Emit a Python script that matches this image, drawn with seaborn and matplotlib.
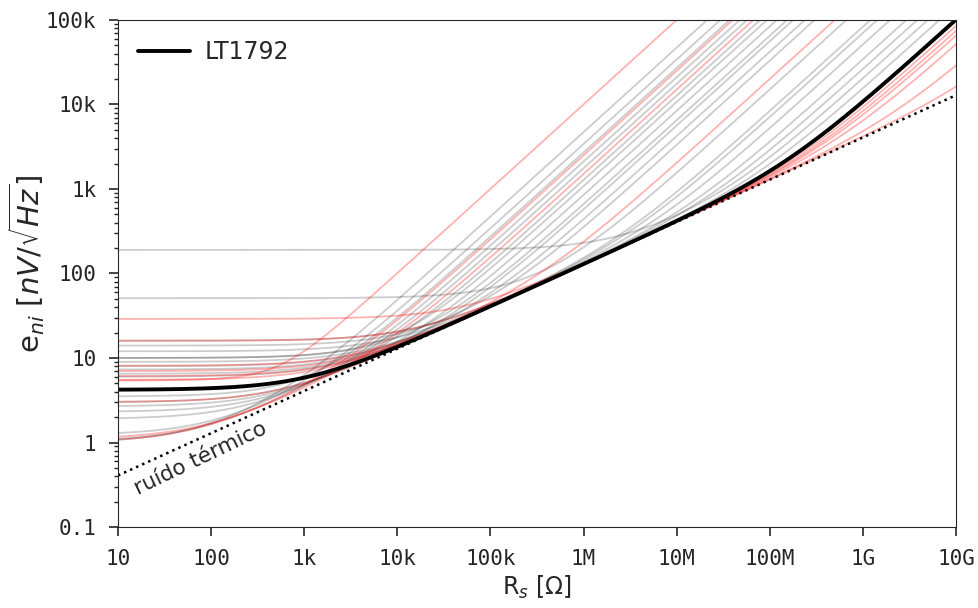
# %%
import numpy as np
import pandas as pd

import matplotlib
matplotlib.use("Agg")
import matplotlib.pyplot as plt
from matplotlib.ticker import FixedLocator, NullLocator, LogLocator
import seaborn as sns

# %%
# voltage noise (nV/rtHz) and current noise (pA/rtHz)
grey_en = [190, 51, 14, 10, 10, 7.3, 3.5, 2.67, 2.3, 1.9, 1.23, 1.03, 1.0,
           8.0, 6.5, 12, 9, 6, 16, 3.0]
grey_in = [0.02, 0.15, 0.33, 0.65, 1.07, 0.42, 2.7, 0.84, 1.27, 1.75, 3.4, 2.1, 4.7,
           0.083, 0.07, 0.051, 0.034, 0.026, 0.015, 0.56]

red_en = [5.4, 29, 16, 6.1, 8.1, 7.0, 5.5, 1.0, 3.0, 1.1]
red_in = [10, 0.0084, 0.0073, 0.0064, 0.005, 0.0026, 0.001, 2.5, 0.2, 1.5]

lt1792_en = 4.2
lt1792_in = 0.01

x_ticks = [1e1, 1e2, 1e3, 1e4, 1e5, 1e6, 1e7, 1e8, 1e9, 1e10]
x_labels = ['10', '100', '1k', '10k', '100k', '1M', '10M', '100M', '1G', '10G']
y_ticks = [0.1, 1, 10, 100, 1e3, 1e4, 1e5]
y_labels = ['0.1', '1', '10', '100', '1k', '10k', '100k']

FOUR_KT = 1.6568e-20  # V^2/(Hz*Ohm) at 300 K
Rs = np.logspace(1, 10, 400)


#%%
def noise_curve(en, i_n, name, group):
    # total input-referred noise in nV/rtHz
    e = np.sqrt((en * 1e-9) ** 2 + FOUR_KT * Rs + (i_n * 1e-12 * Rs) ** 2) * 1e9
    return pd.DataFrame({'Rs': Rs, 'eni': e, 'name': name, 'group': group})


grey_df = pd.concat([noise_curve(a, b, f'g{i}', 'grey')
                     for i, (a, b) in enumerate(zip(grey_en, grey_in))])
red_df = pd.concat([noise_curve(a, b, f'r{i}', 'red')
                    for i, (a, b) in enumerate(zip(red_en, red_in))])
lt_df = noise_curve(lt1792_en, lt1792_in, 'LT1792', 'LT1792')
thermal_df = pd.DataFrame({'Rs': Rs, 'eni': np.sqrt(FOUR_KT * Rs) * 1e9})

#%%
sns.set_style('ticks')
plt.rcParams['font.family'] = ['DejaVu Sans']

fig = plt.figure(figsize=(9.79, 6.08), dpi=100)
ax = fig.add_axes([0.1205, 0.1332, 0.856, 0.834])

sns.lineplot(data=grey_df, x='Rs', y='eni', units='name', estimator=None,
             color='black', alpha=0.2, lw=1.3, ax=ax, legend=False)
sns.lineplot(data=red_df, x='Rs', y='eni', units='name', estimator=None,
             color='red', alpha=0.3, lw=1.3, ax=ax, legend=False)
sns.lineplot(data=thermal_df, x='Rs', y='eni', color='black', ls=':', lw=1.8, ax=ax)
sns.lineplot(data=lt_df, x='Rs', y='eni', color='black', lw=2.8, ax=ax, label='LT1792')

ax.set_xscale('log')
ax.set_yscale('log')
ax.set_xlim(1e1, 1e10)
ax.set_ylim(0.1, 1e5)

ax.xaxis.set_major_locator(FixedLocator(x_ticks))
ax.xaxis.set_minor_locator(NullLocator())
ax.set_xticks(x_ticks, x_labels)
ax.set_yticks(y_ticks, y_labels)
ax.yaxis.set_minor_locator(LogLocator(base=10, subs=np.arange(2, 10), numticks=20))

for lab in ax.get_xticklabels() + ax.get_yticklabels():
    lab.set_family('DejaVu Sans Mono')
    lab.set_fontsize(15)
ax.tick_params(which='major', length=6.5, width=1.2, pad=9)
ax.tick_params(which='minor', length=3, width=1.0)

ax.set_xlabel(r'R$_s$ [$\Omega$]', fontsize=17)
ax.set_ylabel(r'e$_{ni}$ [$nV/\sqrt{Hz}$]', fontsize=21)
ax.yaxis.set_label_coords(-0.085, 0.52)

ax.text(17, 0.215, 'ruído térmico', rotation=25.5, fontsize=15.5,
        rotation_mode='anchor', ha='left', va='bottom')

ax.legend(loc='upper left', frameon=False, fontsize=17, handlelength=2.2,
          handletextpad=0.6, borderaxespad=0.45)

plt.savefig('out.png', dpi=100)
